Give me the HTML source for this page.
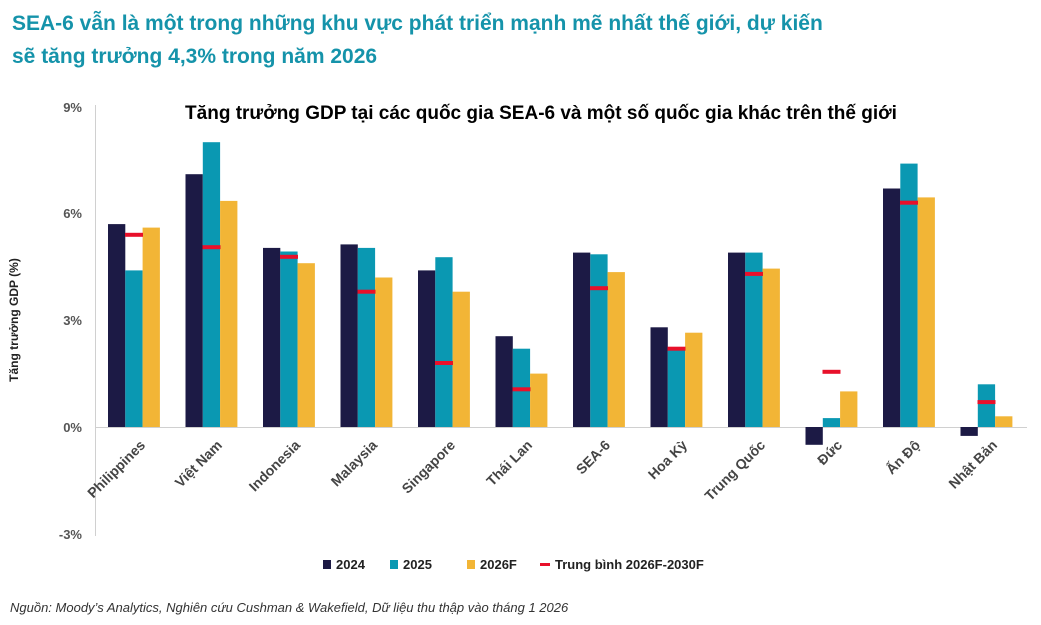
<!DOCTYPE html><html><head><meta charset="utf-8"><style>body{margin:0;background:#fff}svg{display:block}</style></head><body>
<svg width="1041" height="625" xmlns="http://www.w3.org/2000/svg" font-family="Liberation Sans, sans-serif">
<text x="12" y="30" font-size="21" font-weight="bold" fill="#1593aa">SEA-6 vẫn là một trong những khu vực phát triển mạnh mẽ nhất thế giới, dự kiến</text>
<text x="12" y="63" font-size="21" font-weight="bold" fill="#1593aa">sẽ tăng trưởng 4,3% trong năm 2026</text>
<text x="541" y="119" font-size="19" font-weight="bold" fill="#000" text-anchor="middle">Tăng trưởng GDP tại các quốc gia SEA-6 và một số quốc gia khác trên thế giới</text>
<g font-size="13" font-weight="bold" fill="#555" text-anchor="end">
<text x="82" y="112">9%</text><text x="82" y="218">6%</text><text x="82" y="325">3%</text><text x="82" y="432">0%</text><text x="82" y="539">-3%</text></g>
<text transform="translate(18,320) rotate(-90)" font-size="12" font-weight="bold" fill="#222" text-anchor="middle">Tăng trưởng GDP   (%)</text>
<line x1="95.5" y1="105" x2="95.5" y2="536" stroke="#d0d0d0"/>
<line x1="95" y1="427.5" x2="1027" y2="427.5" stroke="#d0d0d0"/>
<g>
<rect x="108" y="224.1" width="17.3" height="202.9" fill="#1c1a45"/><rect x="125.3" y="270.4" width="17.3" height="156.6" fill="#0a98b2"/><rect x="142.6" y="227.6" width="17.3" height="199.4" fill="#f2b536"/><rect x="125" y="232.8" width="18" height="4" fill="#e8102a"/>
<rect x="185.5" y="174.2" width="17.3" height="252.8" fill="#1c1a45"/><rect x="202.8" y="142.2" width="17.3" height="284.8" fill="#0a98b2"/><rect x="220.1" y="200.9" width="17.3" height="226.1" fill="#f2b536"/><rect x="202.5" y="245.2" width="18" height="4" fill="#e8102a"/>
<rect x="263" y="247.9" width="17.3" height="179.1" fill="#1c1a45"/><rect x="280.3" y="251.5" width="17.3" height="175.5" fill="#0a98b2"/><rect x="297.6" y="263.2" width="17.3" height="163.8" fill="#f2b536"/><rect x="280" y="254.8" width="18" height="4" fill="#e8102a"/>
<rect x="340.5" y="244.4" width="17.3" height="182.6" fill="#1c1a45"/><rect x="357.8" y="247.9" width="17.3" height="179.1" fill="#0a98b2"/><rect x="375.1" y="277.5" width="17.3" height="149.5" fill="#f2b536"/><rect x="357.5" y="289.7" width="18" height="4" fill="#e8102a"/>
<rect x="418" y="270.4" width="17.3" height="156.6" fill="#1c1a45"/><rect x="435.3" y="257.2" width="17.3" height="169.8" fill="#0a98b2"/><rect x="452.6" y="291.7" width="17.3" height="135.3" fill="#f2b536"/><rect x="435" y="361" width="18" height="4" fill="#e8102a"/>
<rect x="495.5" y="336.2" width="17.3" height="90.8" fill="#1c1a45"/><rect x="512.8" y="348.7" width="17.3" height="78.3" fill="#0a98b2"/><rect x="530.1" y="373.6" width="17.3" height="53.4" fill="#f2b536"/><rect x="512.5" y="387.3" width="18" height="4" fill="#e8102a"/>
<rect x="573" y="252.6" width="17.3" height="174.4" fill="#1c1a45"/><rect x="590.3" y="254.3" width="17.3" height="172.7" fill="#0a98b2"/><rect x="607.6" y="272.1" width="17.3" height="154.9" fill="#f2b536"/><rect x="590" y="286.2" width="18" height="4" fill="#e8102a"/>
<rect x="650.5" y="327.3" width="17.3" height="99.7" fill="#1c1a45"/><rect x="667.8" y="348.7" width="17.3" height="78.3" fill="#0a98b2"/><rect x="685.1" y="332.7" width="17.3" height="94.3" fill="#f2b536"/><rect x="667.5" y="346.7" width="18" height="4" fill="#e8102a"/>
<rect x="728" y="252.6" width="17.3" height="174.4" fill="#1c1a45"/><rect x="745.3" y="252.6" width="17.3" height="174.4" fill="#0a98b2"/><rect x="762.6" y="268.6" width="17.3" height="158.4" fill="#f2b536"/><rect x="745" y="271.9" width="18" height="4" fill="#e8102a"/>
<rect x="805.5" y="427" width="17.3" height="17.8" fill="#1c1a45"/><rect x="822.8" y="418.1" width="17.3" height="8.9" fill="#0a98b2"/><rect x="840.1" y="391.4" width="17.3" height="35.6" fill="#f2b536"/><rect x="822.5" y="369.8" width="18" height="4" fill="#e8102a"/>
<rect x="883" y="188.5" width="17.3" height="238.5" fill="#1c1a45"/><rect x="900.3" y="163.6" width="17.3" height="263.4" fill="#0a98b2"/><rect x="917.6" y="197.4" width="17.3" height="229.6" fill="#f2b536"/><rect x="900" y="200.7" width="18" height="4" fill="#e8102a"/>
<rect x="960.5" y="427" width="17.3" height="8.9" fill="#1c1a45"/><rect x="977.8" y="384.3" width="17.3" height="42.7" fill="#0a98b2"/><rect x="995.1" y="416.3" width="17.3" height="10.7" fill="#f2b536"/><rect x="977.5" y="400.1" width="18" height="4" fill="#e8102a"/>
</g>
<g font-size="14" font-weight="bold" fill="#444" text-anchor="end">
<text transform="translate(146,446) rotate(-45)">Philippines</text>
<text transform="translate(223,446) rotate(-45)">Việt Nam</text>
<text transform="translate(301,446) rotate(-45)">Indonesia</text>
<text transform="translate(378,446) rotate(-45)">Malaysia</text>
<text transform="translate(456,446) rotate(-45)">Singapore</text>
<text transform="translate(533,446) rotate(-45)">Thái Lan</text>
<text transform="translate(611,446) rotate(-45)">SEA-6</text>
<text transform="translate(688,446) rotate(-45)">Hoa Kỳ</text>
<text transform="translate(766,446) rotate(-45)">Trung Quốc</text>
<text transform="translate(843,446) rotate(-45)">Đức</text>
<text transform="translate(921,446) rotate(-45)">Ấn Độ</text>
<text transform="translate(998,446) rotate(-45)">Nhật Bản</text>
</g>
<g font-size="13" font-weight="bold" fill="#222">
<rect x="323" y="560" width="8" height="9" fill="#1c1a45"/><text x="336" y="569">2024</text>
<rect x="390" y="560" width="8" height="9" fill="#0a98b2"/><text x="403" y="569">2025</text>
<rect x="467" y="560" width="8" height="9" fill="#f2b536"/><text x="480" y="569">2026F</text>
<rect x="540" y="563" width="10" height="3" fill="#e8102a"/><text x="555" y="569">Trung bình 2026F-2030F</text>
</g>
<text x="10" y="612" font-size="13" font-style="italic" fill="#333">Nguồn: Moody’s Analytics, Nghiên cứu Cushman &amp; Wakefield, Dữ liệu thu thập vào tháng 1 2026</text>
</svg></body></html>
